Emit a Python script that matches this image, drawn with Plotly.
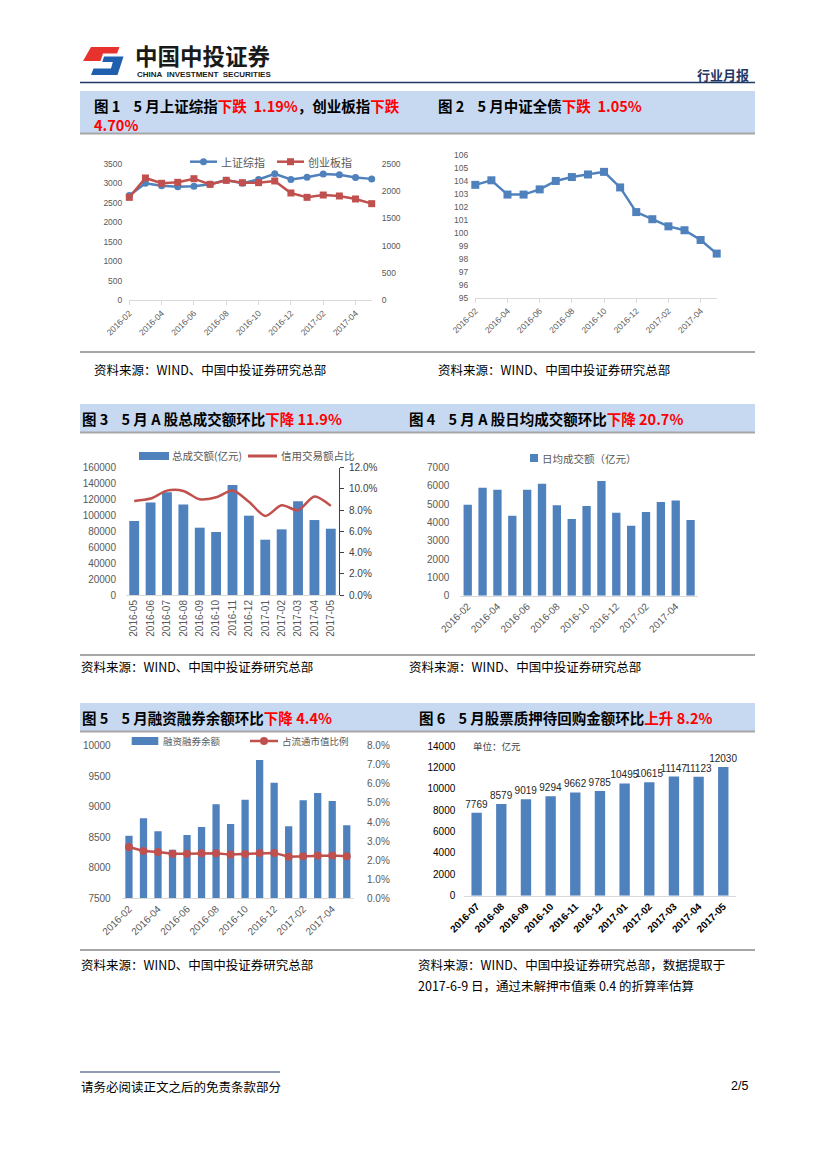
import plotly.graph_objects as go

W, H = 827, 1169


def px(x):
    return x / W


def py(y):
    return 1 - y / H


FONT = "Liberation Sans, Noto Sans CJK SC, sans-serif"
CJK = "Noto Sans CJK SC, Liberation Sans, sans-serif"
GRAY = "#595959"
BLUE = "#4f81bd"
RED = "#c0504d"
NAVY = "#1f3864"
BAND = "#c6d9f1"

# ---------------- data ----------------
months_16 = ["2016-02", "2016-03", "2016-04", "2016-05", "2016-06", "2016-07", "2016-08", "2016-09",
             "2016-10", "2016-11", "2016-12", "2017-01", "2017-02", "2017-03", "2017-04", "2017-05"]
sh_index = [2688, 3004, 2938, 2917, 2930, 2979, 3085, 3005, 3100, 3250, 3104, 3159, 3242, 3223, 3155, 3117]
cyb_index = [1887, 2243, 2145, 2163, 2230, 2126, 2200, 2157, 2157, 2188, 1967, 1887, 1930, 1912, 1857, 1771]
bond_index = [103.7, 104.05, 102.95, 102.95, 103.35, 104.0, 104.3, 104.5, 104.7, 103.5, 101.6, 101.05,
              100.5, 100.2, 99.45, 98.4]

months_13 = ["2016-05", "2016-06", "2016-07", "2016-08", "2016-09", "2016-10", "2016-11", "2016-12",
             "2017-01", "2017-02", "2017-03", "2017-04", "2017-05"]
turnover_total = [93000, 116400, 129000, 113900, 84600, 79200, 138200, 99700, 69500, 82500, 117700, 94200, 83300]
credit_share = [0.0887, 0.0909, 0.0984, 0.0981, 0.0902, 0.0921, 0.0984, 0.0880, 0.0745, 0.0846, 0.0799, 0.0928, 0.0840]

daily_turnover = [4976, 5906, 5797, 4375, 5797, 6125, 4940, 4193, 4903, 6271, 4539, 3828, 4575, 5122, 5213, 4138]

margin_balance = [8526, 8810, 8597, 8297, 8537, 8668, 9039, 8717, 9116, 9765, 9394, 8679, 9105, 9225, 9094, 8695]
margin_ratio = [0.0269, 0.0248, 0.0243, 0.0234, 0.0234, 0.0236, 0.0236, 0.0229, 0.0232, 0.0238, 0.0238,
                0.0218, 0.0220, 0.0224, 0.0225, 0.0220]

months_11 = ["2016-07", "2016-08", "2016-09", "2016-10", "2016-11", "2016-12", "2017-01", "2017-02",
             "2017-03", "2017-04", "2017-05"]
pledge_amount = [7769, 8579, 9019, 9294, 9662, 9785, 10495, 10615, 11147, 11123, 12030]

# ---------------- traces ----------------
fig = go.Figure()

# Chart 1
fig.add_trace(go.Scatter(x=months_16, y=sh_index, xaxis="x", yaxis="y", mode="lines+markers",
                         line=dict(color=BLUE, width=2.5), marker=dict(symbol="circle", size=7, color=BLUE),
                         cliponaxis=False, showlegend=False, name="上证综指"))
fig.add_trace(go.Scatter(x=months_16, y=cyb_index, xaxis="x", yaxis="y2", mode="lines+markers",
                         line=dict(color=RED, width=2.5), marker=dict(symbol="square", size=7, color=RED),
                         cliponaxis=False, showlegend=False, name="创业板指"))
# Chart 2
fig.add_trace(go.Scatter(x=months_16, y=bond_index, xaxis="x2", yaxis="y3", mode="lines+markers",
                         line=dict(color=BLUE, width=2.5), marker=dict(symbol="square", size=8, color=BLUE),
                         cliponaxis=False, showlegend=False, name="中证全债"))
# Chart 3
fig.add_trace(go.Bar(x=months_13, y=turnover_total, xaxis="x3", yaxis="y4", marker_color=BLUE,
                     width=0.6, showlegend=False, name="总成交额(亿元)"))
fig.add_trace(go.Scatter(x=months_13, y=credit_share, xaxis="x3", yaxis="y5", mode="lines",
                         line=dict(color=RED, width=2.5, shape="spline", smoothing=0.8),
                         cliponaxis=False, showlegend=False, name="信用交易额占比"))
# Chart 4
fig.add_trace(go.Bar(x=months_16, y=daily_turnover, xaxis="x4", yaxis="y6", marker_color=BLUE,
                     width=0.56, showlegend=False, name="日均成交额（亿元）"))
# Chart 5
fig.add_trace(go.Bar(x=months_16, y=margin_balance, xaxis="x5", yaxis="y7", marker_color=BLUE,
                     width=0.5, showlegend=False, name="融资融券余额"))
fig.add_trace(go.Scatter(x=months_16, y=margin_ratio, xaxis="x5", yaxis="y8", mode="lines+markers",
                         line=dict(color=RED, width=2.5), marker=dict(symbol="circle", size=8, color=RED),
                         cliponaxis=False, showlegend=False, name="占流通市值比例"))
# Chart 6
fig.add_trace(go.Bar(x=months_11, y=pledge_amount, xaxis="x6", yaxis="y9", marker_color=BLUE,
                     width=0.42, text=[str(v) for v in pledge_amount], textposition="outside",
                     constraintext="none", cliponaxis=False,
                     textfont=dict(family=FONT, size=10, color="#262626"), showlegend=False))

# ---------------- axes ----------------


def yax(domain, rng, dtick, size, color=GRAY, **kw):
    d = dict(domain=domain, range=rng, dtick=dtick, showgrid=False, zeroline=False, showline=False,
             ticks="", tickfont=dict(family=FONT, size=size, color=color), ticklabelstandoff=6,
             fixedrange=True, automargin=False, tickformat="d")
    d.update(kw)
    return d


def xax(domain, anchor, rng, size, angle, tickvals=None, color=GRAY, weight="normal", **kw):
    d = dict(domain=domain, anchor=anchor, type="category", range=rng, showgrid=False, zeroline=False,
             showline=True, linecolor="#d9d9d9", linewidth=1, ticks="", tickangle=angle,
             tickfont=dict(family=FONT, size=size, color=color, weight=weight), fixedrange=True,
             automargin=False)
    if tickvals is not None:
        d["tickvals"] = tickvals
    d.update(kw)
    return d


layout_axes = dict(
    # Chart 1
    xaxis=xax([px(129.3), px(371.7)], "y", [0, 15], 8.5, -45, months_16[::2],
              ticks="outside", ticklen=4, tickcolor="#d9d9d9"),
    yaxis=yax([py(300), py(164)], [0, 3500], 500, 8.5, anchor="x"),
    yaxis2=yax([py(300), py(164)], [0, 2500], 500, 8.5, anchor="x", overlaying="y", side="right",
               ticklabelstandoff=9),
    # Chart 2
    xaxis2=xax([px(475.3), px(716.7)], "y3", [0, 15], 8.5, -45, months_16[::2],
               ticks="outside", ticklen=4, tickcolor="#d9d9d9"),
    yaxis3=yax([py(297.7), py(155)], [95, 106], 1, 8.5, anchor="x2"),
    # Chart 3
    xaxis3=xax([px(126), px(339)], "y4", [-0.5, 12.5], 10, -90),
    yaxis4=yax([py(595), py(467.7)], [0, 160000], 20000, 10, anchor="x3", ticklabelstandoff=9),
    yaxis5=yax([py(595), py(467.7)], [0, 0.12], 0.02, 10, color="#404040", anchor="x3", overlaying="y4",
               side="right", tickformat=".1%", showline=True, linecolor="#404040", linewidth=1,
               ticks="outside", ticklen=4, tickcolor="#404040", ticklabelstandoff=3),
    # Chart 4
    xaxis4=xax([px(460.3), px(698)], "y6", [-0.5, 15.5], 10, -45, months_16[::2]),
    yaxis6=yax([py(595.7), py(467.7)], [0, 7000], 1000, 10, anchor="x4", ticklabelstandoff=10),
    # Chart 5
    xaxis5=xax([px(121.7), px(354)], "y7", [-0.5, 15.5], 10, -45, months_16[::2]),
    yaxis7=yax([py(898.3), py(745.7)], [7500, 10000], 500, 10, anchor="x5", ticklabelstandoff=10),
    yaxis8=yax([py(898.3), py(745.7)], [0, 0.08], 0.01, 10, anchor="x5", overlaying="y7", side="right",
               tickformat=".1%", ticklabelstandoff=12),
    # Chart 6
    xaxis6=xax([px(464.3), px(735.6)], "y9", [-0.5, 10.5], 10, -45, color="#000000", weight="bold"),
    yaxis9=yax([py(895.7), py(746)], [0, 14000], 2000, 10, color="#000000", anchor="x6",
               ticklabelstandoff=8),
)

# ---------------- decoration shapes ----------------
shapes = []


def rect(x0, y0, x1, y1, fill, line_color=None, lw=0):
    shapes.append(dict(type="rect", xref="paper", yref="paper", x0=px(x0), x1=px(x1), y0=py(y1), y1=py(y0),
                       fillcolor=fill, line=dict(width=lw, color=line_color or fill), layer="below"))


def hline(x0, x1, y, color, width):
    shapes.append(dict(type="line", xref="paper", yref="paper", x0=px(x0), x1=px(x1), y0=py(y), y1=py(y),
                       line=dict(color=color, width=width)))


def poly(points, color):
    path = "M " + " L ".join(f"{px(a)},{py(b)}" for a, b in points) + " Z"
    shapes.append(dict(type="path", xref="paper", yref="paper", path=path, fillcolor=color,
                       line=dict(width=0, color=color)))


# logo
poly([(91, 47), (119.5, 47), (117, 53.5), (103, 53.5), (100.5, 61), (83, 61)], "#e8322d")
poly([(104, 56.5), (123.5, 56.5), (117.5, 75), (91, 75), (93.5, 68.5), (111, 68.5), (112.8, 62), (102.3, 62)],
     "#1f5fae")
hline(80, 755, 82.5, NAVY, 1.5)

# title bands
for (y0, y1) in [(91, 133), (404, 432), (703, 731)]:
    rect(80, y0, 755, y1, BAND)
    hline(80, 755, y1 + 0.5, "#a6a6a6", 2)
# separators under charts
for y in [352, 655, 950]:
    hline(80, 755, y, "#a6a6a6", 2)
# footer line
hline(80, 280, 1072, NAVY, 1.2)

# legend symbols
hline(190, 217, 161.7, BLUE, 2.5)
shapes.append(dict(type="circle", xref="paper", yref="paper", x0=px(200), x1=px(207), y0=py(165.2), y1=py(158.2),
                   fillcolor=BLUE, line=dict(width=0, color=BLUE)))
hline(277, 304, 161.7, RED, 2.5)
rect(287, 158.2, 294, 165.2, RED)
shapes[-1]["layer"] = "above"
rect(139, 452, 169, 460, BLUE)
hline(248, 277, 456, RED, 3)
rect(530, 454, 538, 462, BLUE)
rect(131.7, 737, 158.3, 745, BLUE)
hline(250, 278, 741, RED, 2.5)
shapes.append(dict(type="circle", xref="paper", yref="paper", x0=px(260), x1=px(268), y0=py(745), y1=py(737),
                   fillcolor=RED, line=dict(width=0, color=RED)))

# ---------------- annotations ----------------
annotations = []


def text(x, y, s, size=12.5, color="#000000", family=CJK, xanchor="left", weight=None):
    f = dict(family=family, size=size, color=color)
    if weight:
        f["weight"] = weight
    annotations.append(dict(xref="paper", yref="paper", x=px(x), y=py(y), text=s, showarrow=False,
                            xanchor=xanchor, yanchor="middle", align="left", font=f))


def red(s):
    return f'<span style="color:#ff0000">{s}</span>'


SP = "\u00a0"
text(133, 54.5, "<b>中国中投证券</b>", size=22.5, color="#1a1a1a")
text(135, 74, "<b>CHINA" + SP * 2 + "INVESTMENT" + SP * 2 + "SECURITIES</b>", size=8, color="#1a1a1a",
     family=FONT)
text(751, 74.5, "<b>行业月报</b>", size=13, color=NAVY, xanchor="right")

TS = 14.5
H1 = "图" + SP + "1" + SP * 4 + "5" + SP
text(92, 105, "<b>" + H1 + "月上证综指" + red("下跌" + SP * 2 + "1.19%") + "，创业板指" + red("下跌") + "</b>",
     size=TS)
text(92, 125, "<b>" + red("4.70%") + "</b>", size=TS)
text(436, 105, "<b>图" + SP + "2" + SP * 4 + "5" + SP + "月中证全债" + red("下跌" + SP * 2 + "1.05%") + "</b>",
     size=TS)
text(80, 418, "<b>图" + SP + "3" + SP * 4 + "5" + SP + "月" + SP + "A" + SP + "股总成交额环比" + red("下降" + SP + "11.9%")
     + "</b>", size=TS)
text(407, 418, "<b>图" + SP + "4" + SP * 4 + "5" + SP + "月" + SP + "A" + SP + "股日均成交额环比" + red("下降" + SP + "20.7%")
     + "</b>", size=TS)
text(80, 717, "<b>图" + SP + "5" + SP * 4 + "5" + SP + "月融资融券余额环比" + red("下降" + SP + "4.4%") + "</b>", size=TS)
text(417, 717, "<b>图" + SP + "6" + SP * 4 + "5" + SP + "月股票质押待回购金额环比" + red("上升" + SP + "8.2%") + "</b>",
     size=TS)

SRC = "资料来源：WIND、中国中投证券研究总部"
text(92, 370, SRC)
text(436, 370, SRC)
text(79, 666, SRC)
text(407, 666, SRC)
text(79, 964, SRC)
text(416, 964, SRC + "，数据提取于")
text(416, 985, "2017-6-9 日，通过未解押市值乘 0.4 的折算率估算")

# legend texts
text(218.5, 161.7, "上证综指", size=11, color=GRAY)
text(306, 161.7, "创业板指", size=11, color=GRAY)
text(169.5, 456, "总成交额(亿元)", size=10.5, color=GRAY)
text(278.5, 456, "信用交易额占比", size=10.5, color=GRAY)
text(539.5, 458, "日均成交额（亿元）", size=10.5, color=GRAY)
text(160.5, 741, "融资融券余额", size=9.5, color=GRAY)
text(280, 741, "占流通市值比例", size=9.5, color=GRAY)
text(471, 746.5, "单位：亿元", size=9.5, color="#404040")

# footer
text(79, 1086, "请务必阅读正文之后的免责条款部分", size=12.5)
text(750, 1086, "2/5", size=12.5, xanchor="right", family=FONT)

fig.update_layout(
    template="none",
    width=W, height=H, margin=dict(l=0, r=0, t=0, b=0, autoexpand=False),
    paper_bgcolor="white", plot_bgcolor="rgba(0,0,0,0)",
    font=dict(family=FONT, color=GRAY),
    showlegend=False, bargap=0.4,
    shapes=shapes, annotations=annotations,
    **layout_axes,
)

fig.write_html("out.html", config={"displayModeBar": False},
               post_script="document.body.style.margin='0';")
